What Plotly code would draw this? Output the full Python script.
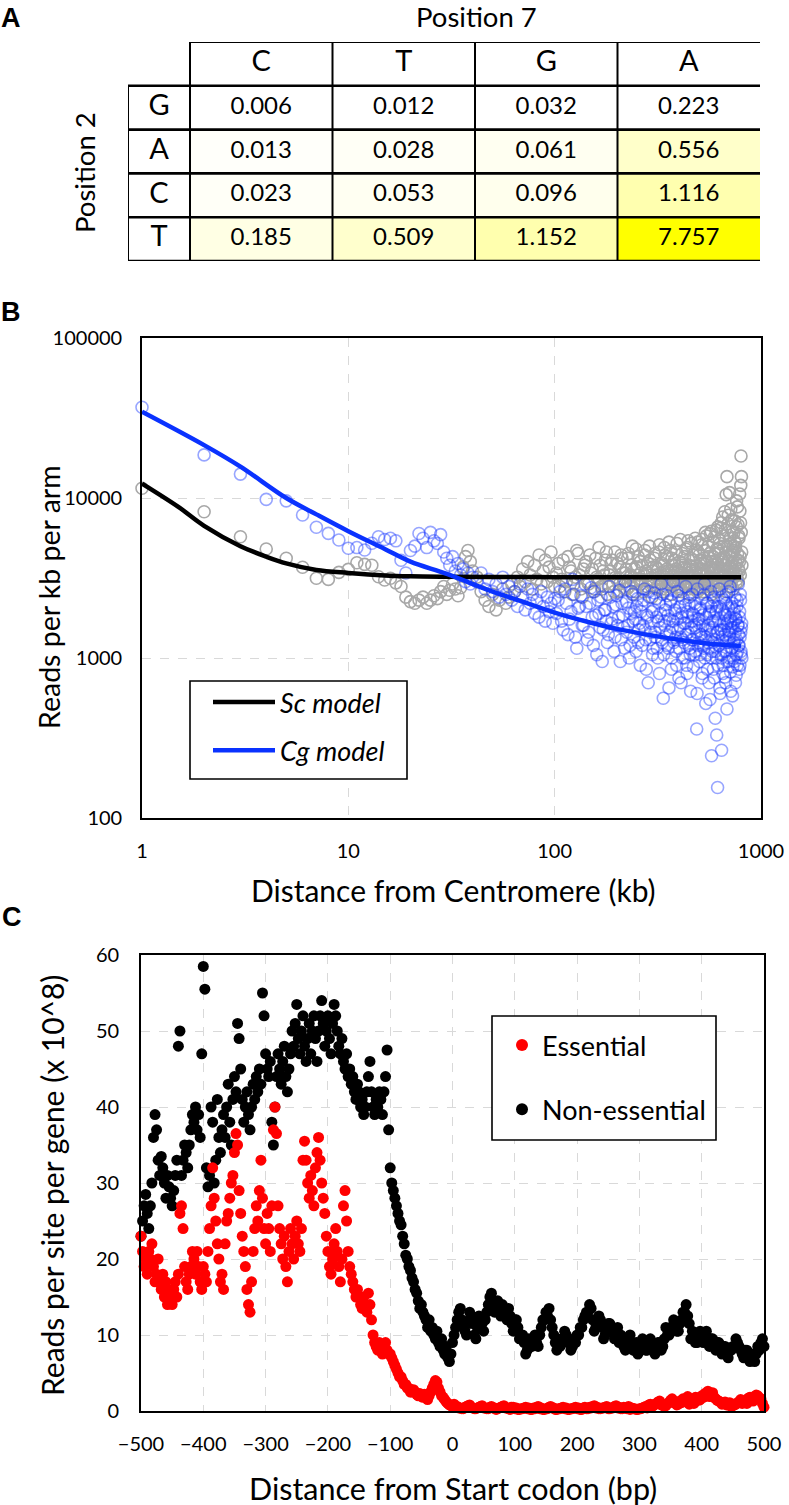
import plotly.graph_objects as go

W, H = 789, 1505
FONT = "Lato"


def px(x):
    return x / W


def py(y):
    return 1 - y / H


# ---------------- Panel A data ----------------
pos7_bases = ["C", "T", "G", "A"]
pos2_bases = ["G", "A", "C", "T"]
ratio = [
    [0.006, 0.012, 0.032, 0.223],
    [0.013, 0.028, 0.061, 0.556],
    [0.023, 0.053, 0.096, 1.116],
    [0.185, 0.509, 1.152, 7.757],
]
shaded_rows = ["A", "C", "T"]

# ---------------- Panel B data ----------------
b_dist = (list(range(1, 41)) + list(range(42, 101, 2)) + list(range(104, 809, 4))
          + list(range(102, 807, 4)))
sc_reads = [
    11500, 8200, 5730, 4800, 4200, 3690, 3150, 3100, 3430, 3580,
    3940, 3850, 3800, 3220, 3070, 3150, 2950, 2800, 2400, 2250,
    2200, 2300, 2400, 2200, 2300, 2450, 2350, 2600, 2800, 2500,
    2650, 2900, 2700, 2450, 2750, 3700, 4300, 4700, 4000, 3500,
    3200, 2600, 2300, 2100, 2500, 2000, 2300, 2700, 2200, 2400,
    2900, 2600, 3200, 2800, 3600, 3000, 4000, 3300, 2700, 3800,
    3100, 4400, 2900, 3500, 4100, 3000, 3700, 4600, 3200, 2800,
    3900, 3100, 2600, 4300, 3500, 2900, 4700, 3300, 2400, 3800,
    3000, 4400, 3600, 2700, 3200, 4900, 2800, 3500, 4100, 2500,
    3300, 3900, 2900, 4600, 3100, 2600, 3700, 4200, 3000, 3400,
    2700, 4500, 3200, 3800, 2500, 3600, 4800, 2900, 3300, 4000,
    3100, 2600, 4400, 3500, 2800, 3900, 5000, 3000, 2400, 3700,
    4200, 3300, 2700, 3600, 4600, 2900, 3400, 3900, 2600, 4900,
    3200, 2800, 4300, 3500, 3000, 4700, 2500, 3800, 3300, 4100,
    2900, 3600, 5200, 3100, 2700, 4000, 3400, 2600, 4500, 3200,
    3700, 2800, 4800, 3300, 3000, 5400, 2500, 3600, 4200, 2900,
    3500, 4400, 2700, 3200, 5600, 3000, 3800, 2600, 4600, 3400,
    3100, 4100, 2800, 5100, 3600, 2600, 3900, 4700, 3000, 3300,
    5800, 2900, 3500, 4300, 2700, 3200, 6000, 3700, 2500, 4000,
    3400, 5300, 2800, 3600, 4500, 3100, 6300, 2600, 3900, 4800,
    3000, 5500, 3500, 2700, 6500, 4200, 3200, 7600, 2900, 5000,
    3800, 8200, 3300, 4600, 2600, 13600, 3600, 6900, 3100, 4400,
    10800, 3400, 5200, 2800, 7300, 3900, 4700, 2700, 6000, 3200,
    5400, 3700, 4900, 2900, 6600, 3300, 8800, 4100, 3000, 5800,
    3500, 10600, 4300, 7000, 18300, 13600, 3800,
    3400, 2800, 4100, 3000, 3700, 2500, 3200, 4500, 2700, 3600,
    4000, 2900, 3400, 2600, 4200, 3100, 3800, 2700, 3300, 4600,
    2800, 3500, 4100, 2600, 3200, 3900, 2900, 4400, 3400, 2700,
    3600, 4200, 2800, 3300, 5000, 3000, 2600, 3700, 4300, 3100,
    2900, 3800, 3300, 4700, 2700, 3400, 3100, 4100, 2800, 3500,
    3000, 4500, 3700, 2800, 3300, 5100, 3100, 2700, 3800, 3500,
    4400, 2700, 3600, 3100, 5300, 2900, 3500, 4200, 2800, 3400,
    3800, 3000, 4600, 2800, 3500, 3200, 5500, 2700, 3900, 3300,
    3100, 4300, 3600, 2900, 4900, 3400, 2700, 3800, 3200, 5200,
    2800, 3700, 4100, 3000, 3400, 4700, 2700, 3600, 5300, 3100,
    4400, 3300, 2700, 3900, 5500, 3000, 3500, 4200, 2800, 6100,
    3400, 4000, 3100, 5000, 2800, 3700, 4500, 3200, 6200, 3600,
    2900, 4300, 3500, 5700, 3100, 4000, 2800, 4800, 3300, 6600,
    3700, 4500, 3000, 5200, 3400, 7000, 2900, 4100, 3600, 5800,
    4200, 3300, 6300, 3800, 10500, 3100, 5000, 3500, 7800, 4000,
    3200, 5600, 3700, 8500, 3000, 4400, 6200, 3600, 5000, 3300,
    4700, 7200, 3400, 5200, 3900, 9600, 3100, 4500, 6800, 3600,
    5600, 4000, 8300, 3300, 12000, 6100, 4600,
]
cg_reads = [
    36900, 18600, 14100, 9800, 9600, 7830, 6560, 6010, 5460, 4850,
    4900, 4730, 5210, 5730, 5500, 5600, 5400, 4080, 3400, 4700,
    5000, 6000, 5600, 4900, 6100, 5400, 5200, 5900, 4600, 4200,
    3800, 4300, 3500, 3900, 3300, 3600, 3000, 3400, 2900, 3200,
    3000, 3400, 2700, 3100, 2600, 2900, 2400, 3200, 2500, 2800,
    2300, 2600, 2100, 2900, 2400, 2000, 2700, 2200, 2500, 1900,
    2300, 1800, 2600, 2100, 1700, 2400, 1950, 2200, 1650, 2350,
    2300, 1700, 2700, 1400, 1950, 2500, 1150, 2100, 1600, 2900,
    1300, 2200, 1800, 2600, 1050, 1900, 2400, 1500, 2000, 1250,
    2800, 1650, 2100, 1350, 2450, 1800, 950, 2200, 1550, 3000,
    1450, 2050, 1200, 2600, 1700, 1950, 1100, 2350, 1500, 900,
    2150, 1600, 2700, 1300, 1850, 700, 2400, 1450, 1950, 1150,
    2550, 1350, 1800, 1000, 2200, 1550, 2900, 1250, 560, 1700,
    2000, 1400, 2450, 1150, 1750, 2250, 850, 1550, 3000, 1300,
    1900, 1100, 2600, 1500, 750, 2100, 1350, 1800, 1000, 2350,
    1250, 1650, 2800, 900, 1950, 1450, 2200, 1150, 620, 1700,
    2500, 1300, 1850, 1050, 2100, 1550, 360, 2700, 1200, 1750,
    950, 2000, 1400, 2350, 800, 1600, 1150, 2900, 1350, 520,
    1800, 1050, 2200, 1250, 700, 1950, 1500, 2600, 245, 1100,
    1700, 850, 2400, 1300, 420, 1900, 1000, 2100, 155, 1450,
    1200, 2700, 650, 1600, 1050, 265, 2000, 1350, 900, 2300,
    1500, 760, 1850, 1100, 2500, 480, 1650, 1250, 2050, 950,
    1400, 2800, 820, 1700, 1150, 2200, 580, 1550, 1000, 1900,
    1300, 2400, 700, 1750, 1050, 2100, 900, 1600, 2900, 1200,
    850, 1950, 1350, 2300, 1100, 1550, 1000,
    1900, 2600, 1500, 2200, 1750, 3100, 1350, 2050, 2450, 1600,
    2100, 1450, 2750, 1200, 1850, 2300, 1550, 950, 2000, 1700,
    1400, 2400, 1750, 1100, 2150, 1600, 2650, 1300, 1850, 1150,
    2250, 1600, 1000, 1900, 2500, 1350, 1750, 2100, 1250, 1650,
    1950, 1200, 2300, 1500, 850, 1800, 2600, 1300, 1650, 1050,
    2000, 1450, 2350, 1150, 1700, 800, 1900, 1300, 2500, 1050,
    1600, 2150, 1200, 1850, 650, 1450, 2300, 1000, 1700, 1250,
    2000, 1350, 900, 1750, 2450, 1150, 1550, 700, 1900, 1300,
    1650, 1000, 2150, 1400, 800, 1800, 1200, 2400, 1050, 1550,
    1300, 1900, 880, 1600, 2200, 1100, 1450, 600, 1750, 1250,
    1650, 1050, 2050, 1350, 750, 1850, 1200, 2500, 1000, 1500,
    1300, 2200, 850, 1600, 1150, 1900, 550, 1400, 2100, 1000,
    1550, 1250, 2300, 750, 1700, 1100, 1950, 330, 1450, 900,
    1750, 1200, 2100, 600, 1500, 1000, 2400, 1300, 800, 1650,
    1100, 1900, 1400, 700, 2200, 1250, 950, 1700, 1500, 2600,
    1000, 1350, 1800, 620, 1550, 2100, 1150, 880, 1650, 1250,
    2000, 950, 1450, 1750, 780, 1300, 2300, 1100, 1600, 1400,
    1200, 1800, 900, 2500, 1450, 1050, 1650,
]
sc_model_x = [1, 1.5, 2, 3, 4, 5, 7, 10, 15, 20, 30, 50, 100, 200, 400, 800]
sc_model_y = [12300, 8800, 6700, 5000, 4300, 3900, 3550, 3400, 3280, 3240, 3220, 3210, 3200, 3200, 3200, 3200]
cg_model_x = [1, 2, 3, 5, 7, 10, 15, 20, 30, 50, 70, 100, 150, 200, 300, 400, 500, 600, 800]
cg_model_y = [34600, 21400, 15700, 10000, 7900, 6200, 4800, 4000, 3350, 2600, 2250, 1920, 1660, 1520, 1380, 1300, 1250, 1220, 1190]

# ---------------- Panel C data ----------------
c_pos = ([-500 + 2.5 * i for i in range(201)] + list(range(5, 501, 5))
         + [2.5 + 5 * i for i in range(100)])
non_essential = [
    # -500 .. 0, every 2.5 bp
    23, 25, 27, 28.5, 26, 24, 27, 30, 36, 39, 37, 33, 31, 33.5, 32, 30, 28, 31, 29.5, 28,
    27, 29, 31, 33, 48, 50, 31, 33, 35, 34, 32, 35, 37, 39, 38, 40, 37, 39, 36, 47,
    58.5, 55.5, 32, 29.5, 31, 40, 38, 30, 33, 41, 36, 34, 37, 39, 36, 40, 43, 38, 35, 41,
    44, 42, 51, 49, 45, 41, 38, 40, 42, 39, 37, 40, 43, 41, 44, 42, 45, 43, 55, 52,
    47, 45, 44, 46, 38, 35, 40, 44, 47, 45, 43, 46, 48, 44, 42, 45, 47, 50, 48, 51,
    53.5, 49, 47, 50, 52, 48, 46, 49, 51, 47, 50, 52, 49, 46, 50, 52, 54, 51, 48, 50,
    52, 49, 47, 51, 53.5, 52, 50, 48, 47, 49, 46, 45, 47, 44, 45, 43, 44, 42, 41, 43,
    42, 40, 41, 39, 40, 42, 44, 46, 42, 40, 39, 41, 40, 42, 41, 39, 42, 44, 47.5, 37,
    32, 30, 29, 28, 27, 26, 25, 24.5, 23, 22, 20.5, 20, 19, 18.5, 17.5, 17, 16, 15.5, 14.5, 13.5,
    14, 13, 12.5, 12, 11, 12, 10.5, 11, 10, 9.5, 10.5, 9, 8.5, 9.5, 8, 7.5, 8.5, 7, 6.5, 7.5,
    9,
    # 5 .. 500, every 5 bp
    11, 13, 12, 10.5, 11.5, 12.5, 10, 11, 12, 10.5,
    13, 15, 14.5, 14, 13, 14, 12.5, 13.5, 11.5, 12,
    11, 10, 9, 8, 8.5, 9.5, 9, 10, 12, 13,
    13.5, 11, 9, 8.5, 9.5, 10.5, 9, 8, 9.5, 10,
    11, 12, 13, 14, 12, 11, 12.5, 11, 10, 11.5,
    10.5, 9.5, 11, 10, 8.5, 9, 10, 8, 9, 8.5,
    9.5, 8, 9, 8.5, 7.5, 9, 8, 9.5, 10, 11,
    12, 10.5, 11.5, 13, 14, 11.5, 10.5, 9, 10, 9.5,
    10, 9, 9.5, 8.5, 9, 8, 8.5, 7.5, 8, 8.5,
    9.5, 8.5, 7.5, 8, 7, 7.5, 6.5, 8.5, 9, 8.5,
    # 2.5 .. 497.5, every 5 bp
    10, 12, 13.5, 11, 10, 13, 11.5, 9.5, 12.5, 11.5,
    12, 14, 15.5, 13, 14.5, 12.5, 13.5, 12, 12.5, 10.5,
    12, 9.5, 10, 7.5, 9.5, 8.5, 10, 8.5, 11, 12,
    12.5, 12, 10, 8, 8.5, 9.5, 10, 9, 8.5, 9,
    10, 11, 12.5, 13, 13.5, 10.5, 11.5, 12, 9.5, 10.5,
    11.5, 10.5, 10, 9, 9.5, 8, 9, 9, 8, 7.5,
    8.5, 9, 8, 9.5, 8.5, 8, 9, 8.5, 11, 10,
    11, 11.5, 10.5, 12, 13, 12.5, 9.5, 10, 9, 10.5,
    9, 10.5, 8.5, 9.5, 8, 9, 7.5, 8.5, 7, 8,
    8.5, 9, 8, 7, 8, 6.5, 7, 7.5, 8, 9.5,
]
essential = [
    # -500 .. 0, every 2.5 bp
    23, 21, 19, 20, 18, 21, 20, 22, 19, 17, 18, 20, 17, 16, 18, 15, 17, 14, 16, 15,
    14, 16, 17, 15, 18, 26, 27, 24, 19, 17, 16, 18, 19, 21, 20, 18, 21, 19, 17, 16,
    19, 18, 17, 21, 24, 27, 32, 28, 25, 22, 20, 17, 18, 16, 22, 25, 26, 28, 30, 31,
    34, 36.5, 35, 29, 26, 23, 21, 19, 16, 14, 13, 17, 21, 24, 27, 25, 29, 33, 28, 24,
    22, 26, 24, 21, 27, 37, 40, 36.5, 27, 24, 22, 20, 23, 19, 17, 21, 24, 22, 20, 23,
    25, 22, 21, 24, 33, 35.5, 33, 30, 28, 31, 29, 27, 32, 34, 36, 33, 30, 28, 26, 23,
    21, 19, 18, 20, 22, 24, 21, 19, 17, 20, 27, 29, 25, 21, 19, 18, 17, 16, 15, 16,
    15, 14, 13.5, 15, 14, 13, 15.5, 14, 12, 10, 9, 8.5, 8, 9, 8.5, 7.5, 8, 9, 8, 7.5,
    7.5, 7, 6.5, 6, 5.5, 5, 4.5, 4.5, 4, 3.5, 3.5, 3, 3, 2.5, 2.5, 2.8, 2.5, 2.2, 2, 2.3,
    2, 1.8, 2.2, 1.8, 1.5, 2, 2.5, 3, 3.5, 4, 3.8, 3, 2.5, 2, 1.8, 1.5, 1.2, 1, 0.8, 0.7,
    0.6,
    # 5 .. 500, every 5 bp
    0.5, 0.4, 0.3, 0.5, 0.7, 0.5, 0.3, 0.4, 0.6, 0.4,
    0.3, 0.5, 0.4, 0.2, 0.4, 0.6, 0.4, 0.3, 0.5, 0.3,
    0.2, 0.3, 0.4, 0.3, 0.2, 0.4, 0.5, 0.3, 0.2, 0.3,
    0.5, 0.4, 0.2, 0.3, 0.4, 0.3, 0.2, 0.3, 0.4, 0.3,
    0.2, 0.4, 0.3, 0.5, 0.6, 0.4, 0.3, 0.4, 0.5, 0.3,
    0.4, 0.6, 0.4, 0.3, 0.5, 0.3, 0.2, 0.3, 0.2, 0.3,
    0.4, 0.6, 0.8, 0.6, 0.9, 1.2, 0.8, 0.6, 1.0, 1.4,
    1.1, 0.8, 1.3, 1.6, 1.2, 0.9, 1.5, 1.8, 1.4, 2.0,
    2.3, 2.6, 2.2, 1.8, 1.4, 1.2, 1.0, 0.8, 1.1, 0.7,
    0.9, 1.2, 1.0, 1.4, 1.7, 1.5, 1.9, 2.0, 1.6, 0.5,
    # 2.5 .. 497.5, every 5 bp
    0.9, 0.6, 0.4, 0.3, 0.6, 0.8, 0.4, 0.3, 0.5, 0.7,
    0.4, 0.3, 0.6, 0.4, 0.3, 0.5, 0.7, 0.4, 0.2, 0.5,
    0.4, 0.2, 0.3, 0.5, 0.4, 0.2, 0.3, 0.6, 0.4, 0.2,
    0.3, 0.6, 0.4, 0.2, 0.3, 0.5, 0.4, 0.2, 0.3, 0.5,
    0.4, 0.2, 0.5, 0.3, 0.4, 0.7, 0.5, 0.3, 0.4, 0.6,
    0.3, 0.4, 0.7, 0.5, 0.3, 0.4, 0.6, 0.4, 0.3, 0.2,
    0.3, 0.5, 0.4, 0.9, 0.7, 1.0, 1.3, 0.9, 0.7, 1.1,
    1.6, 1.2, 0.9, 1.1, 1.5, 1.9, 1.3, 1.0, 1.7, 1.5,
    1.8, 2.1, 1.9, 2.4, 1.6, 1.3, 0.9, 1.2, 0.8, 0.6,
    0.8, 1.1, 1.5, 1.2, 1.0, 1.8, 1.3, 2.1, 1.7, 1.0,
]

fig = go.Figure()

# ================= Panel A: table =================
vmax = max(max(r) for r in ratio)
shade = [row if base in shaded_rows else [None] * 4 for base, row in zip(pos2_bases, ratio)]
ts = [0, 0.002, 0.005, 0.01, 0.02, 0.04, 0.07, 0.1, 0.15, 0.25, 0.4, 0.6, 0.8, 1]
ycolorscale = [[t, "rgb(255,255,%d)" % round(255 * (1 - t ** 0.6))] for t in ts]
cols = list(range(len(pos7_bases)))
rows = list(range(len(pos2_bases)))
fig.add_trace(go.Heatmap(
    x=cols, y=rows, z=shade, zmin=0, zmax=vmax, colorscale=ycolorscale,
    showscale=False, hoverinfo="skip", xaxis="x3", yaxis="y3",
))
cell_x, cell_y, cell_t = [], [], []
for i, row in enumerate(ratio):
    for j, v in enumerate(row):
        cell_x.append(j)
        cell_y.append(i)
        cell_t.append(f"{v:.3f}")
fig.add_trace(go.Scatter(
    x=cell_x, y=cell_y, text=cell_t, mode="text", textposition="middle center",
    textfont=dict(family=FONT, size=24, color="black"), showlegend=False,
    hoverinfo="skip", xaxis="x3", yaxis="y3",
))
LABCOL = -0.5 - 62 / 142.5
fig.add_trace(go.Scatter(
    x=cols, y=[-1] * 4, text=pos7_bases, mode="text", textposition="middle center",
    textfont=dict(family=FONT, size=29, color="black"), showlegend=False,
    hoverinfo="skip", xaxis="x3", yaxis="y3",
))
fig.add_trace(go.Scatter(
    x=[(LABCOL - 0.5) / 2] * 4, y=rows, text=pos2_bases, mode="text",
    textposition="middle center",
    textfont=dict(family=FONT, size=29, color="black"), showlegend=False,
    hoverinfo="skip", xaxis="x3", yaxis="y3",
))

shapes = []
RIGHT = 3.52
shapes.append(dict(type="line", xref="x3", yref="y3", x0=-0.5, x1=RIGHT, y0=-1.5, y1=-1.5,
                   line=dict(color="black", width=2.2)))
for yb in [-0.5, 0.5, 1.5, 2.5, 3.5]:
    shapes.append(dict(type="line", xref="x3", yref="y3", x0=LABCOL, x1=RIGHT, y0=yb, y1=yb,
                       line=dict(color="black", width=2.6)))
shapes.append(dict(type="line", xref="x3", yref="y3", x0=LABCOL, x1=LABCOL, y0=-0.5, y1=3.5,
                   line=dict(color="black", width=2)))
for xb in [-0.5, 0.5, 1.5, 2.5]:
    shapes.append(dict(type="line", xref="x3", yref="y3", x0=xb, x1=xb, y0=-1.5, y1=3.5,
                       line=dict(color="black", width=2)))
# legend frames
shapes.append(dict(type="rect", xref="paper", yref="paper", x0=px(190), x1=px(407),
                   y0=py(779), y1=py(681), layer="above", fillcolor="white",
                   line=dict(color="black", width=1.6)))
shapes.append(dict(type="rect", xref="paper", yref="paper", x0=px(492), x1=px(716),
                   y0=py(1140), y1=py(1016), layer="above", fillcolor="white",
                   line=dict(color="black", width=1.6)))

# ================= Panel B =================
fig.add_trace(go.Scatter(
    x=b_dist, y=sc_reads, mode="markers", cliponaxis=False, showlegend=False,
    marker=dict(symbol="circle-open", size=12, color="#A8A8A8", line=dict(width=1.6)),
    hoverinfo="skip", xaxis="x", yaxis="y",
))
fig.add_trace(go.Scatter(
    x=b_dist, y=cg_reads, mode="markers", cliponaxis=False, showlegend=False,
    marker=dict(symbol="circle-open", size=12, color="rgba(25,55,255,0.45)", line=dict(width=1.6)),
    hoverinfo="skip", xaxis="x", yaxis="y",
))
fig.add_trace(go.Scatter(
    x=sc_model_x, y=sc_model_y, mode="lines", name="Sc model", legend="legend",
    legendgroup="sc", legendrank=1, line=dict(color="black", width=4.5, shape="spline"),
    xaxis="x", yaxis="y",
))
fig.add_trace(go.Scatter(
    x=cg_model_x, y=cg_model_y, mode="lines", name="Cg model", legend="legend",
    legendgroup="cg", legendrank=2, line=dict(color="#0A32FF", width=4.5, shape="spline"),
    xaxis="x", yaxis="y",
))

# ================= Panel C =================
fig.add_trace(go.Scatter(
    x=c_pos, y=non_essential, mode="markers", name="Non-essential", legend="legend2",
    legendgroup="non", legendrank=2, cliponaxis=False,
    marker=dict(size=11, color="black"), xaxis="x2", yaxis="y2",
))
fig.add_trace(go.Scatter(
    x=c_pos, y=essential, mode="markers", name="Essential", legend="legend2",
    legendgroup="ess", legendrank=1, cliponaxis=False,
    marker=dict(size=11, color="#FF0000"), xaxis="x2", yaxis="y2",
))

grid = dict(showgrid=True, gridcolor="#D9D9D9", griddash="dash", gridwidth=1.3, zeroline=False,
            showline=True, linecolor="black", linewidth=1.6, mirror=True, ticks="")
tickfont = dict(family=FONT, size=20, color="black")
letter_font = dict(family="Liberation Sans", size=27, color="black")

annotations = [
    dict(text="<b>A</b>", x=px(11), y=py(18), font=letter_font),
    dict(text="<b>B</b>", x=px(11), y=py(312), font=letter_font),
    dict(text="<b>C</b>", x=px(12), y=py(917), font=letter_font),
    dict(text="Position 7", x=px(476), y=py(16), font=dict(family=FONT, size=27.5, color="black")),
    dict(text="Position 2", x=px(84), y=py(173), textangle=-90, font=dict(family=FONT, size=27.5, color="black")),
    dict(text="Distance from Centromere (kb)", x=px(453), y=py(890), font=dict(family=FONT, size=30, color="black")),
    dict(text="Reads per kb per arm", x=px(49), y=py(597), textangle=-90, font=dict(family=FONT, size=28.5, color="black")),
    dict(text="Distance from Start codon (bp)", x=px(453), y=py(1488), font=dict(family=FONT, size=30.5, color="black")),
    dict(text="Reads per site per gene (x 10^8)", x=px(52), y=py(1186), textangle=-90, font=dict(family=FONT, size=30, color="black")),
]
for a in annotations:
    a.update(xref="paper", yref="paper", showarrow=False, xanchor="center", yanchor="middle")

fig.update_layout(
    width=W, height=H, margin=dict(l=0, r=0, t=0, b=0, pad=0, autoexpand=False),
    paper_bgcolor="white", plot_bgcolor="white",
    font=dict(family=FONT, color="black"),
    xaxis=dict(domain=[px(142), px(761)], type="log", range=[0, 3],
               tickvals=[1, 10, 100, 1000], ticktext=["1", "10", "100", "1000"],
               tickfont=tickfont, ticklabelstandoff=14, anchor="y", automargin=False, **grid),
    yaxis=dict(domain=[py(818), py(338)], type="log", range=[2, 5],
               tickvals=[100, 1000, 10000, 100000], ticktext=["100", "1000", "10000", "100000"],
               tickfont=tickfont, ticklabelstandoff=14, anchor="x", automargin=False, **grid),
    xaxis2=dict(domain=[px(141), px(764)], range=[-500, 500], tickvals=list(range(-500, 501, 100)),
                tickfont=tickfont, ticklabelstandoff=14, anchor="y2", automargin=False, **grid),
    yaxis2=dict(domain=[py(1411), py(955)], range=[0, 60], tickvals=list(range(0, 61, 10)),
                tickfont=tickfont, ticklabelstandoff=16, anchor="x2", automargin=False, **grid),
    xaxis3=dict(domain=[px(128), px(760)], range=[LABCOL, 3.5], visible=False, anchor="y3"),
    yaxis3=dict(domain=[py(261), py(42)], range=[3.5, -1.5], visible=False, anchor="x3"),
    legend=dict(x=px(208), y=py(678), xanchor="left", yanchor="top",
                borderwidth=0, bgcolor="rgba(0,0,0,0)",
                font=dict(family=FONT, size=27, style="italic", color="black"),
                traceorder="grouped", tracegroupgap=10, itemwidth=62),
    legend2=dict(x=px(502), y=py(1021), xanchor="left", yanchor="top",
                 borderwidth=0, bgcolor="rgba(0,0,0,0)",
                 font=dict(family=FONT, size=27, color="black"),
                 traceorder="grouped", tracegroupgap=26, itemsizing="constant"),
    shapes=shapes,
    annotations=annotations,
)

fig.write_html("out.html", config={"displayModeBar": False},
               post_script="document.body.style.margin='0px';")
